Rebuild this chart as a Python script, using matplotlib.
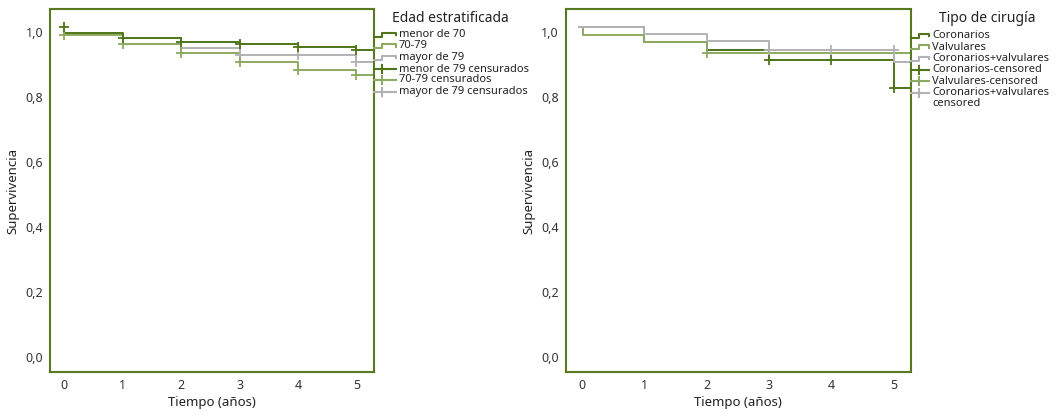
import matplotlib
matplotlib.use("Agg")
import matplotlib.pyplot as plt
from matplotlib.lines import Line2D

plt.rcParams['font.family'] = ['Noto Sans', 'DejaVu Sans']

W, H = 1064, 416

# --- datos: edad estratificada ---
edad_t = [0, 1, 2, 3, 4, 5, 5.4]
menor70 = [0.997, 0.981, 0.970, 0.962, 0.953, 0.945, 0.945]
g7079 = [0.991, 0.963, 0.934, 0.906, 0.881, 0.868, 0.868]
mayor79 = [0.994, 0.963, 0.950, 0.929, 0.929, 0.906, 0.906]
menor70_cens_t = [0, 1, 2, 3, 4, 5]
menor70_cens = [1.014, 0.981, 0.970, 0.962, 0.953, 0.945]
g7079_cens_t = [0, 1, 2, 3, 4, 5]
g7079_cens = [0.991, 0.963, 0.934, 0.906, 0.881, 0.868]
mayor79_cens_t = [3, 4, 5]
mayor79_cens = [0.929, 0.929, 0.906]
edad_labels = ["menor de 70", "70-79", "mayor de 79",
               "menor de 79 censurados", "70-79 censurados", "mayor de 79 censurados"]

# --- datos: tipo de cirugia ---
cor_t = [-0.05, 1, 2, 3, 5, 5.4]
cor_s = [1.016, 0.970, 0.945, 0.912, 0.827, 0.827]
valv_t = [-0.05, 0.02, 1, 2, 5.4]
valv_s = [1.016, 0.991, 0.970, 0.936, 0.936]
cv_t = [-0.05, 1, 2, 3, 5, 5.4]
cv_s = [1.016, 0.994, 0.973, 0.945, 0.906, 0.906]
cor_cens_t = [3, 4, 5]
cor_cens = [0.912, 0.912, 0.827]
valv_cens_t = [2]
valv_cens = [0.936]
cv_cens_t = [3, 4, 5]
cv_cens = [0.945, 0.945, 0.945]
cir_labels = ["Coronarios", "Valvulares", "Coronarios+valvulares",
              "Coronarios-censored", "Valvulares-censored", "Coronarios+valvulares\ncensored"]

DARK = "#4f7518"
MID = "#8daa62"
GRAY = "#b2b2b6"
BORDER = "#58791f"

fig = plt.figure(figsize=(W / 100, H / 100), dpi=100)


def fx(x):
    return x / W


def fy(y):
    return 1 - y / H


def make_ax(x0, x1, xlim):
    ax = fig.add_axes([fx(x0), fy(372), fx(x1) - fx(x0), fy(9) - fy(372)])
    ax.set_xlim(*xlim)
    ax.set_ylim(-0.046, 1.070)
    ax.set_xticks(range(6))
    ax.set_yticks([0, 0.2, 0.4, 0.6, 0.8, 1.0])
    ax.set_yticklabels(["0,0", "0,2", "0,4", "0,6", "0,8", "1,0"])
    ax.tick_params(length=0, labelsize=9, labelcolor="#333333", pad=5)
    for s in ax.spines.values():
        s.set_color(BORDER)
        s.set_linewidth(1.5)
    ax.set_xlabel("Tiempo (años)", fontsize=9.5, color="#222222", labelpad=3)
    ax.set_ylabel("Supervivencia", fontsize=9.5, color="#222222", labelpad=4)
    return ax


def legend(xbox, xtext, title_x, title, ys, labels, colors):
    fig.text(fx(title_x), fy(19), title, fontsize=10, color="#222222", va="center")
    for i, (y, lab, c) in enumerate(zip(ys, labels, colors)):
        if i < 3:
            xs = [xbox, xbox + 8, xbox + 8, xtext - 3, xtext - 3]
            yy = [y + 2, y + 2, y - 1.8, y - 1.8, y + 0.5]
            fig.add_artist(Line2D([fx(v) for v in xs], [fy(v) for v in yy],
                                  transform=fig.transFigure, color=c, lw=1.5))
        else:
            fig.add_artist(Line2D([fx(xbox), fx(xtext - 3)], [fy(y), fy(y)],
                                  transform=fig.transFigure, color=c, lw=1.5))
            fig.add_artist(Line2D([fx(xbox + 8), fx(xbox + 8)], [fy(y - 4), fy(y + 4)],
                                  transform=fig.transFigure, color=c, lw=1.5))
        two = "\n" in lab
        fig.text(fx(xtext), fy(y - 6 if two else y), lab, fontsize=8, color="#222222",
                 va="top" if two else "center", linespacing=0.95)


# panel izquierdo
ax1 = make_ax(50, 374, (-0.247, 5.30))
ax1.step(edad_t, mayor79, where="post", color=GRAY, lw=1.4)
ax1.step(edad_t, g7079, where="post", color=MID, lw=1.4)
ax1.step(edad_t, menor70, where="post", color=DARK, lw=1.4)
ax1.plot(mayor79_cens_t, mayor79_cens, "+", color=GRAY, ms=7, mew=1.3)
ax1.plot(g7079_cens_t, g7079_cens, "+", color=MID, ms=7, mew=1.3)
ax1.plot(menor70_cens_t, menor70_cens, "+", color=DARK, ms=7, mew=1.3)
legend(374, 399, 391.7, "Edad estratificada",
       [34.5, 46, 57.5, 69, 80, 91.5], edad_labels, [DARK, MID, GRAY, DARK, MID, GRAY])

# panel derecho
ax2 = make_ax(565.7, 910.7, (-0.256, 5.27))
ax2.step(cor_t, cor_s, where="post", color=DARK, lw=1.4)
ax2.step(valv_t, valv_s, where="post", color=MID, lw=1.4)
ax2.step(cv_t, cv_s, where="post", color=GRAY, lw=1.4)
ax2.plot(cor_cens_t, cor_cens, "+", color=DARK, ms=7, mew=1.3)
ax2.plot(valv_cens_t, valv_cens, "+", color=MID, ms=7, mew=1.3)
ax2.plot(cv_cens_t, cv_cens, "+", color=GRAY, ms=7, mew=1.3)
legend(910.7, 932, 939.3, "Tipo de cirugía",
       [35.5, 47, 58.5, 70, 81, 93], cir_labels, [DARK, MID, GRAY, DARK, MID, GRAY])

fig.savefig("out.png", dpi=100)
